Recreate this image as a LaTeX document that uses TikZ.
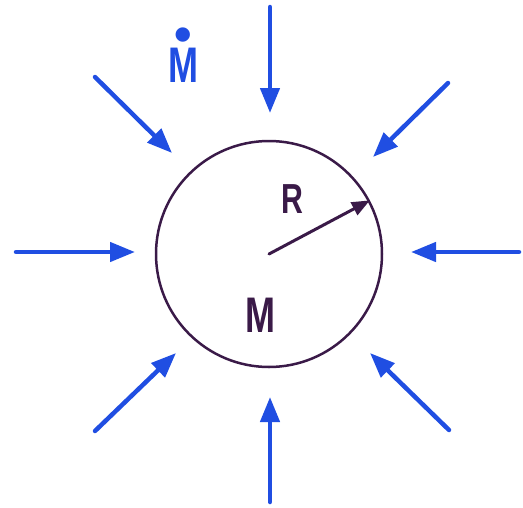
\documentclass[tikz,border=0pt]{standalone}
\usepackage{fontspec}
\setsansfont{Liberation Sans}
\usetikzlibrary{arrows.meta}
\definecolor{pen}{RGB}{32,78,226}
\definecolor{ink}{RGB}{58,26,72}
\newcommand{\narrow}[1]{\scalebox{0.72}[1]{#1}}
\newcommand{\ponto}[1]{\ooalign{#1\cr\hidewidth\raisebox{0.62em}{\textbullet}\hidewidth\cr}}

\begin{document}
\begin{tikzpicture}[x=1pt, y=-1pt,
    fluxo/.style={-{Triangle[length=25pt, width=19pt]}, line width=4.5pt,
      line cap=round, color=pen},
    raio/.style={-{Triangle[length=18pt, width=14pt]}, line width=3pt,
      line cap=round, color=ink},
    letra/.style={font=\fontsize{50}{50}\selectfont\sffamily\bfseries,
      inner sep=0pt, anchor=base}]
  \useasboundingbox (0,0) rectangle (523,507);
  \node[draw=ink, line width=2.5pt, circle, minimum size=226pt, inner sep=0pt]
    (bola) at (269,254) {};
  % pontas livres das setas de acrecao
  \coordinate (n0) at (270,7);   \coordinate (n1) at (270,113);
  \coordinate (ne0) at (448,83); \coordinate (ne1) at (373,157);
  \coordinate (l0) at (519,252); \coordinate (l1) at (411,252);
  \coordinate (se0) at (449,430); \coordinate (se1) at (370,353);
  \coordinate (s0) at (270,502); \coordinate (s1) at (270,397);
  \coordinate (so0) at (95,431); \coordinate (so1) at (176,353);
  \coordinate (o0) at (16,252);  \coordinate (o1) at (135,252);
  \coordinate (no0) at (95,77);  \coordinate (no1) at (172,153);
  \draw[fluxo] (n0) -- (n1);
  \draw[fluxo] (ne0) -- (ne1);
  \draw[fluxo] (l0) -- (l1);
  \draw[fluxo] (se0) -- (se1);
  \draw[fluxo] (s0) -- (s1);
  \draw[fluxo] (so0) -- (so1);
  \draw[fluxo] (o0) -- (o1);
  \draw[fluxo] (no0) -- (no1);
  \draw[raio] (bola.center) -- (bola.28);
  \node[letra, text=pen] (mdot) at (183,82) {\ponto{\narrow{M}}};
  \node[letra, text=ink, font=\fontsize{42}{42}\selectfont\sffamily\bfseries]
    (r) at (292,213) {\narrow{R}};
  \node[letra, text=ink] (massa) at (260,332) {\narrow{M}};
\end{tikzpicture}
\end{document}
